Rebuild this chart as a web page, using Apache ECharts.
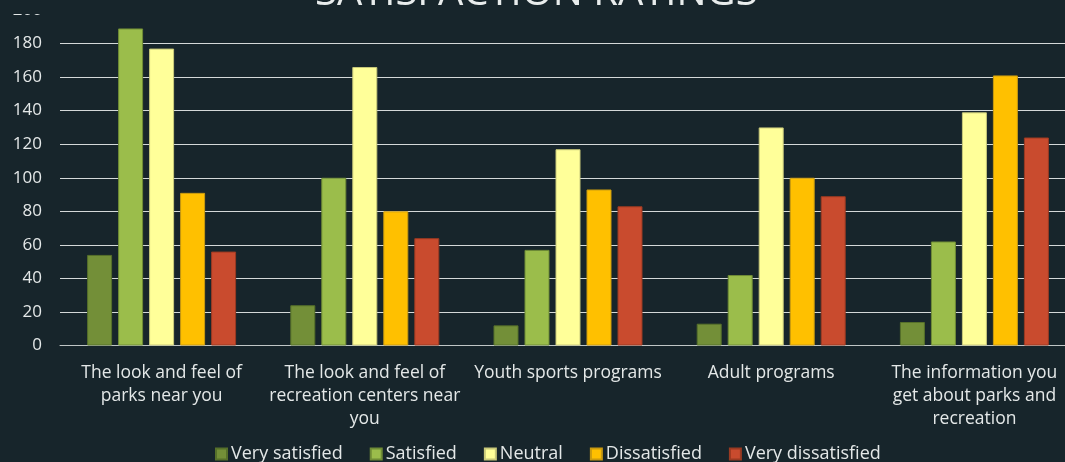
<!DOCTYPE html>
<html>
<head>
<meta charset="utf-8">
<script src="https://cdn.jsdelivr.net/npm/echarts@6/dist/echarts.min.js"></script>
<style>
html,body{margin:0;padding:0;background:#17252b;overflow:hidden;width:1065px;height:462px;}
#chart{width:1076px;height:462px;}
</style>
</head>
<body>
<div id="chart"></div>
<script>
var categories = [
  'The look and feel of\nparks near you',
  'The look and feel of\nrecreation centers near\nyou',
  'Youth sports programs',
  'Adult programs',
  'The information you\nget about parks and\nrecreation'
];
var seriesNames = ['Very satisfied', 'Satisfied', 'Neutral', 'Dissatisfied', 'Very dissatisfied'];
var verySatisfied = [54, 24, 12, 13, 14];
var satisfied = [189, 100, 57, 42, 62];
var neutral = [177, 166, 117, 130, 139];
var dissatisfied = [91, 80, 93, 100, 161];
var veryDissatisfied = [56, 64, 83, 89, 124];
var colors = ['#738f38', '#9bbd4b', '#ffff99', '#ffc000', '#c94b2e'];
var borders = ['#56702a', '#6f8c36', '#c9c97a', '#c99a10', '#9a3a22'];

var values = [verySatisfied, satisfied, neutral, dissatisfied, veryDissatisfied];
var bg = '#17252b';
var chart = echarts.init(document.getElementById('chart'));
var series = seriesNames.map(function (n, i) {
  return {
    name: n,
    type: 'bar',
    data: values[i],
    barWidth: 25,
    barGap: '24%',
    itemStyle: { color: colors[i], borderColor: borders[i], borderWidth: 1 }
  };
});
chart.setOption({
  backgroundColor: bg,
  animation: false,
  color: colors,
  title: {
    text: 'SATISFACTION RATINGS',
    left: 310,
    top: -31,
    z: 20,
    textStyle: { color: '#e8ecec', fontFamily: 'Open Sans', fontSize: 40, fontWeight: 'normal' }
  },
  graphic: [{
    type: 'rect', left: 0, top: 0, z: 10,
    shape: { width: 1076, height: 14 },
    style: { fill: bg }
  }],
  grid: { left: 60, right: 0, top: 10, bottom: 116.5, containLabel: false },
  legend: {
    data: seriesNames,
    top: 440,
    left: 210,
    icon: 'rect',
    itemWidth: 11,
    itemHeight: 11,
    itemGap: 27,
    textStyle: { color: '#e4e8e8', fontFamily: 'Open Sans', fontSize: 18, padding: [0, 0, 0, -1] }
  },
  xAxis: {
    type: 'category',
    data: categories,
    axisLine: { show: true, lineStyle: { color: '#c0c6c6', width: 1 } },
    axisTick: { show: false },
    axisLabel: {
      color: '#e4e8e8', fontFamily: 'Open Sans', fontSize: 17.5, lineHeight: 23, margin: 16, interval: 0
    }
  },
  yAxis: {
    type: 'value',
    min: 0, max: 200, interval: 20,
    axisLine: { show: false },
    axisTick: { show: false },
    splitLine: { lineStyle: { color: '#d4d9d9', width: 1 } },
    axisLabel: { color: '#e4e8e8', fontFamily: 'Open Sans', fontSize: 17, margin: 18 }
  },
  series: series
});
</script>
</body>
</html>
